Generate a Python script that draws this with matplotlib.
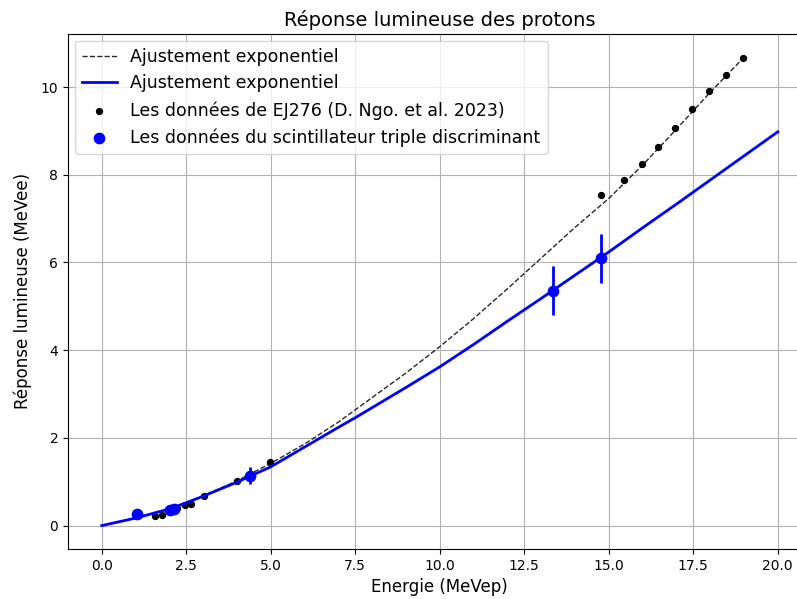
import matplotlib.pyplot as plt

# fitted light response curves (MeVee) sampled along the proton energy (MeVep)
energie_fit_tsd = [0, 1, 2, 2.5, 3, 4, 5, 6, 7, 7.5, 8, 9, 10, 11, 12, 13, 14, 15, 16, 17, 18, 19, 20]
reponse_fit_tsd = [0, 0.17, 0.38, 0.52, 0.67, 0.99, 1.34, 1.79, 2.24, 2.46, 2.69, 3.15, 3.62,
                   4.13, 4.66, 5.18, 5.71, 6.24, 6.79, 7.33, 7.88, 8.43, 8.98]

energie_fit_ej276 = [0, 1, 2, 3, 4, 5, 6, 7, 8, 9, 10, 11, 12, 13, 14, 15, 16, 17, 18, 19]
reponse_fit_ej276 = [0, 0.17, 0.38, 0.68, 1.02, 1.42, 1.86, 2.36, 2.92, 3.48, 4.08,
                     4.72, 5.40, 6.10, 6.80, 7.46, 8.22, 9.04, 9.88, 10.68]

# EJ276 data (D. Ngo et al. 2023)
energie_ej276 = [1.56, 1.78, 2.1, 2.22, 2.46, 2.63, 3.01, 3.99, 4.98,
                 14.76, 15.45, 15.98, 16.47, 16.96, 17.47, 17.97, 18.47, 18.97]
reponse_ej276 = [0.21, 0.25, 0.36, 0.40, 0.46, 0.50, 0.67, 1.01, 1.46,
                 7.53, 7.87, 8.25, 8.64, 9.06, 9.50, 9.90, 10.28, 10.66]

# triple discriminating scintillator measurements
energie_tsd = [1.04, 2.02, 2.15, 4.39, 13.34, 14.76]
reponse_tsd = [0.27, 0.36, 0.38, 1.14, 5.36, 6.10]
erreur_tsd = [0.0, 0.0, 0.0, 0.2, 0.55, 0.56]

fig = plt.figure(figsize=(7.97, 5.99), dpi=100)
ax = fig.add_axes([0.0853, 0.0835, 0.933, 0.86])

ax.plot(energie_fit_ej276, reponse_fit_ej276, 'k--', lw=1, alpha=0.85, label='Ajustement exponentiel')
ax.plot(energie_fit_tsd, reponse_fit_tsd, color='blue', lw=2, label='Ajustement exponentiel')
ax.scatter(energie_ej276, reponse_ej276, color='black', s=18, label='Les données de EJ276 (D. Ngo. et al. 2023)')
ax.errorbar(energie_tsd, reponse_tsd, yerr=erreur_tsd, fmt='none', ecolor='blue', elinewidth=2)
ax.scatter(energie_tsd, reponse_tsd, color='blue', s=55, zorder=3,
           label='Les données du scintillateur triple discriminant')

ax.set_xticks([0, 2.5, 5, 7.5, 10, 12.5, 15, 17.5, 20])
ax.set_yticks([0, 2, 4, 6, 8, 10])
ax.tick_params(axis='both', labelsize=10)
ax.grid(True, color='#b0b0b0', lw=0.8)
ax.set_axisbelow(True)

ax.set_title('Réponse lumineuse des protons', fontsize=14)
ax.set_xlabel('Energie (MeVep)', fontsize=12)
ax.set_ylabel('Réponse lumineuse (MeVee)', fontsize=12, labelpad=6)
ax.legend(loc='upper left', fontsize=12.5, scatterpoints=1, borderaxespad=0.4)

fig.savefig('out.png', dpi=100)
